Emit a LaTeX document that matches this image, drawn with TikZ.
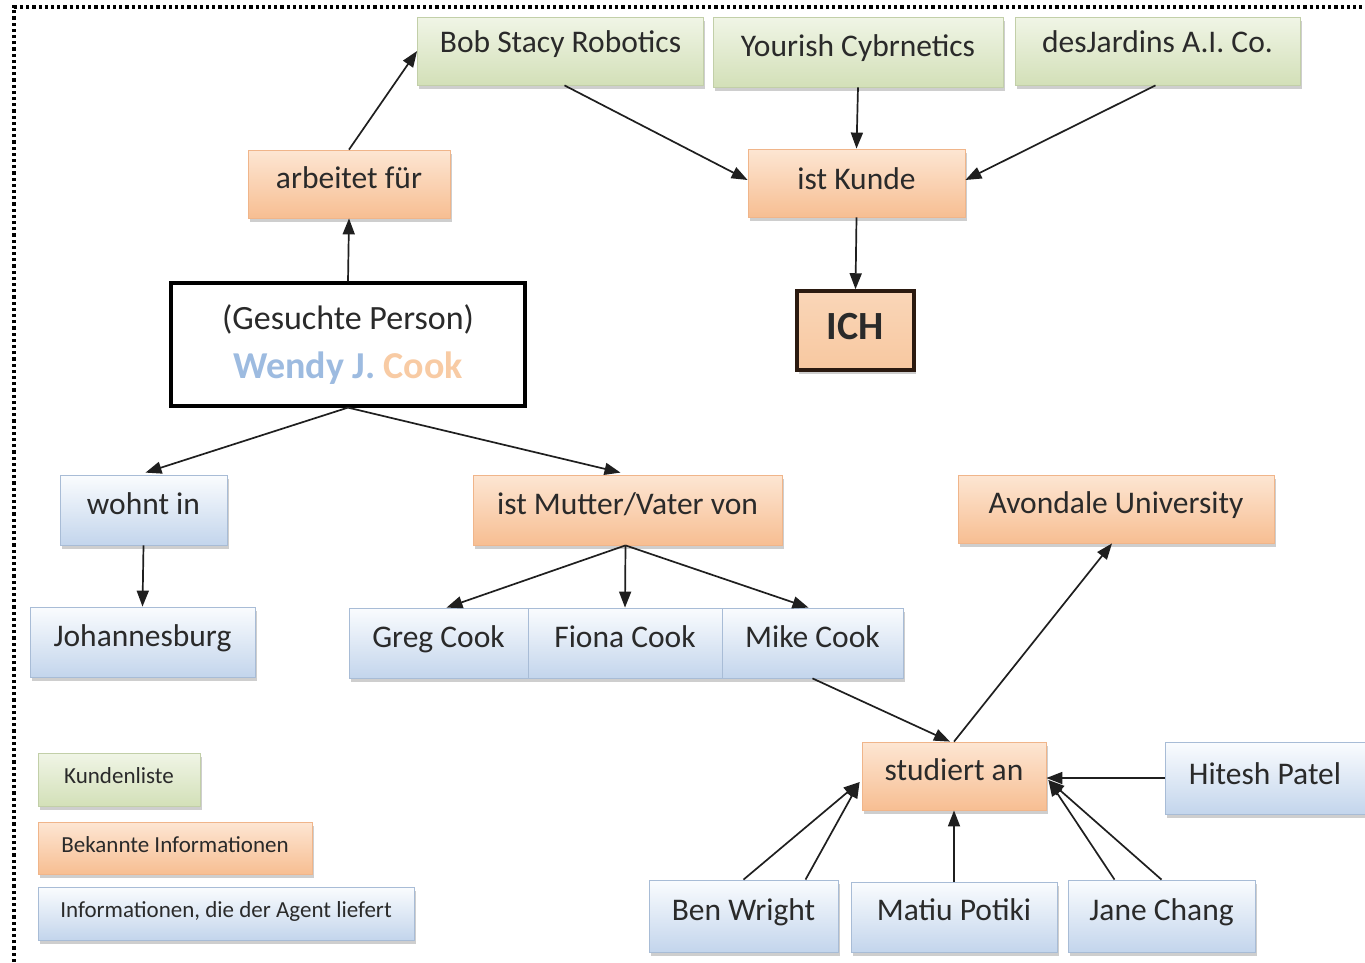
\documentclass[tikz,border=0pt]{standalone}
\usepackage{fontspec}
\setmainfont{Carlito}
\usetikzlibrary{arrows.meta,shadows,calc}
\definecolor{gtop}{HTML}{F0F5E6}
\definecolor{gbot}{HTML}{D3E0B8}
\definecolor{gdraw}{HTML}{C2CFA8}
\definecolor{otop}{HTML}{FDE6D3}
\definecolor{obot}{HTML}{F7BE92}
\definecolor{odraw}{HTML}{F0B58A}
\definecolor{btop}{HTML}{FAFCFE}
\definecolor{bbot}{HTML}{C3D5EC}
\definecolor{bdraw}{HTML}{A8BCD6}
\definecolor{txt}{HTML}{2A2A2A}
\definecolor{wblue}{HTML}{9DBBE0}
\definecolor{corange}{HTML}{F8CBA4}
\definecolor{ichfill}{HTML}{F8C8A0}
\definecolor{ichdraw}{HTML}{2B1A10}
\newcommand{\mainsize}{\fontsize{31.5}{36}\selectfont}
\newcommand{\legsize}{\fontsize{23}{27}\selectfont}
\tikzset{
  boxbase/.style={line width=0.8pt, inner sep=0pt, text height=21pt, text depth=12pt,
    font=\mainsize, text=txt,
    drop shadow={shadow xshift=1.5pt, shadow yshift=-3.5pt, opacity=0.35, fill=black!55}},
  gbox/.style={boxbase, top color=gtop, bottom color=gbot, draw=gdraw},
  obox/.style={boxbase, top color=otop, bottom color=obot, draw=odraw},
  bbox/.style={boxbase, top color=btop, bottom color=bbot, draw=bdraw},
  legend/.style={font=\legsize, text height=16pt, text depth=8pt},
  arr/.style={-{Triangle[length=16pt,width=12pt]}, line width=1.7pt, draw=black!88},
  frame/.style={line width=3.2pt, dash pattern=on 3.2pt off 3pt, draw=black}
}
\begin{document}
\begin{tikzpicture}[x=1pt,y=-1pt]
\useasboundingbox (0,0) rectangle (1365,962);
\fill[white] (0,0) rectangle (1365,962);
\draw[frame] (14,962) -- (14,7) -- (1365,7);

% top row
\node[gbox, minimum width=286pt, minimum height=68pt, text height=19pt, text depth=16pt] (bob) at (560.5,51) {Bob Stacy Robotics};
\node[gbox, minimum width=290pt, minimum height=70pt] (yourish) at (858,52) {Yourish Cybrnetics};
\node[gbox, minimum width=285pt, minimum height=68pt, text height=19pt, text depth=16pt] (desj) at (1157.5,51) {desJardins A.I. Co.};

\node[obox, minimum width=202pt, minimum height=68pt] (arbeitet) at (349,184) {arbeitet für};
\node[obox, minimum width=217pt, minimum height=68pt, text height=22pt, text depth=10pt] (kunde) at (856.5,183) {ist Kunde};

\node[boxbase, draw=ichdraw, line width=3.5pt, top color=ichfill!75, bottom color=ichfill, minimum width=117pt, minimum height=79pt,
  font=\fontsize{40}{46}\selectfont\bfseries, text height=27pt, text depth=10pt] (ich) at (855.5,330.5) {ICH};

\node[draw=black, line width=3.2pt, fill=white, minimum width=354pt, minimum height=123pt, inner sep=0pt, align=center, text=txt] (wendy) at (348,344.5)
  {{\fontsize{34}{40}\selectfont (Gesuchte Person)}\\[17pt]{\fontsize{38}{44}\selectfont\bfseries\textcolor{wblue}{Wendy J.} \textcolor{corange}{Cook}}};

% middle row
\node[bbox, minimum width=167pt, minimum height=70pt] (wohnt) at (143.5,510) {wohnt in};
\node[obox, minimum width=309pt, minimum height=70pt] (mutter) at (627.5,510) {ist Mutter/Vater von};
\node[obox, minimum width=316pt, minimum height=68pt] (avondale) at (1116,509) {Avondale University};

\node[bbox, minimum width=225pt, minimum height=70pt] (joh) at (142.5,642) {Johannesburg};
\node[bbox, minimum width=179pt, minimum height=70pt] (greg) at (438.5,643) {Greg Cook};
\node[bbox, minimum width=194pt, minimum height=70pt] (fiona) at (625,643) {Fiona Cook};
\node[bbox, minimum width=181pt, minimum height=70pt] (mike) at (812.5,643) {Mike Cook};

% bottom
\node[obox, minimum width=184pt, minimum height=68pt] (studiert) at (954,776) {studiert an};
\node[bbox, minimum width=210pt, minimum height=72pt, text height=21pt, text depth=9pt] (hitesh) at (1270,778) {\hspace*{-10pt}Hitesh Patel};
\node[bbox, minimum width=189pt, minimum height=72pt] (ben) at (743.5,916) {Ben Wright};
\node[bbox, minimum width=206pt, minimum height=70pt, text height=21pt, text depth=15pt] (matiu) at (954,917) {Matiu Potiki};
\node[bbox, minimum width=187pt, minimum height=72pt] (jane) at (1161.5,916) {Jane Chang};

% legend
\node[gbox, legend, minimum width=162pt, minimum height=53pt] (leg1) at (119,779.5) {Kundenliste};
\node[obox, legend, minimum width=274pt, minimum height=52pt] (leg2) at (175,848) {Bekannte Informationen};
\node[bbox, legend, minimum width=376pt, minimum height=53pt] (leg3) at (226,913.5) {Informationen, die der Agent liefert};

% connectors
\draw[arr] (arbeitet.north) -- (bob.west);
\draw[arr] (wendy.north) -- (arbeitet.south);
\draw[arr] ($(bob.south)+(4,0)$) -- ($(kunde.west)+(0,-3)$);
\draw[arr] (yourish.south) -- (kunde.north);
\draw[arr] ($(desj.south)+(-2,0)$) -- ($(kunde.east)+(0,-3)$);
\draw[arr] (kunde.south) -- (ich.north);
\draw[arr] (wendy.south) -- ($(wohnt.north)+(2,-2)$);
\draw[arr] (wendy.south) -- ($(mutter.north)+(-7,-2)$);
\draw[arr] (wohnt.south) -- (joh.north);
\draw[arr] ($(mutter.south)+(-2,0)$) -- ($(greg.north)+(8,0)$);
\draw[arr] ($(mutter.south)+(-2,0)$) -- (fiona.north);
\draw[arr] ($(mutter.south)+(-2,0)$) -- ($(mike.north)+(-4,0)$);
\draw[arr] (mike.south) -- ($(studiert.north)+(-4,0)$);
\draw[arr] (studiert.north) -- ($(avondale.south)+(-4,0)$);
\draw[arr] (hitesh.west) -- ($(studiert.east)+(0,2)$);
\draw[arr] (ben.north) -- ($(studiert.west)+(-2,6)$);
\draw[arr] ($(ben.north)+(62,0)$) -- ($(studiert.west)+(-2,6)$);
\draw[arr] (matiu.north) -- (studiert.south);
\draw[arr] ($(jane.north)+(-47,0)$) -- ($(studiert.east)+(2,4)$);
\draw[arr] (jane.north) -- ($(studiert.east)+(2,4)$);
\end{tikzpicture}
\end{document}
